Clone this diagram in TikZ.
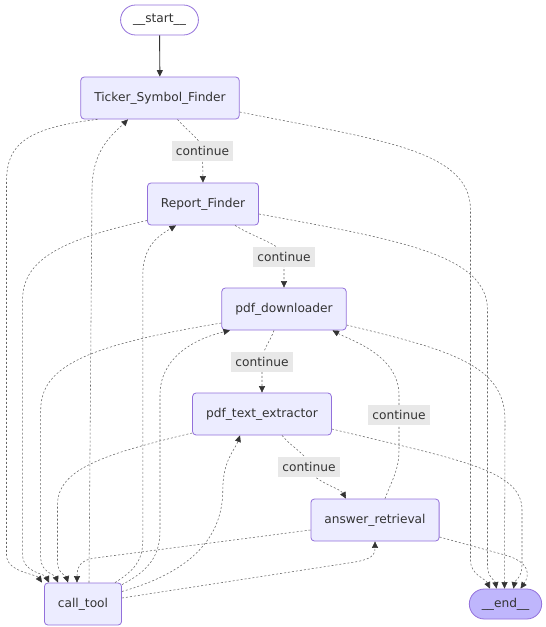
\documentclass[tikz,border=0pt]{standalone}
\usepackage{fontspec}
\setmainfont{DejaVu Sans}
\usetikzlibrary{arrows.meta}
\definecolor{nodefill}{HTML}{ECECFF}
\definecolor{nodeline}{HTML}{9370DB}
\definecolor{endfill}{HTML}{BFB6FC}
\definecolor{ink}{HTML}{333333}
\definecolor{lblfill}{HTML}{E8E8E8}

\begin{document}
\begin{tikzpicture}[x=1pt,y=-1pt,>={Triangle[length=6.5pt,width=6pt,color=ink]},
  font=\fontsize{12.2}{14}\selectfont,text=ink]
	\tikzstyle{box}=[draw=nodeline,fill=nodefill,line width=0.8pt,rounded corners=3.5pt,
	  inner xsep=13.5pt,minimum height=42pt]
	\tikzstyle{term}=[box,rounded corners=15pt,minimum height=30pt,inner xsep=12.5pt]
	\tikzstyle{flow}=[->,draw=ink!75,line width=0.55pt,dash pattern=on 2pt off 2pt]
	\tikzstyle{lbl}=[fill=lblfill,inner xsep=4pt,inner ysep=0pt,minimum height=20pt]
	\useasboundingbox (0,0) rectangle (546,627);
	
	\node[term,fill=white] (start) at (159.5,20) {\_\_start\_\_};
	\node[box] (tsf) at (160,98) {Ticker\_Symbol\_Finder};
	\node[box] (rf) at (203,204) {Report\_Finder};
	\node[box] (pdd) at (284,309) {pdf\_downloader};
	\node[box] (pte) at (262,414) {pdf\_text\_extractor};
	\node[box] (ar) at (375,520) {answer\_retrieval};
	\node[box] (ct) at (83,604) {call\_tool};
	\node[term,fill=endfill] (end) at (505.5,604) {\_\_end\_\_};
	
	% main chain
	\draw[->,draw=ink,line width=0.9pt] (start) -- (tsf);
	\draw[flow] ([xshift=17.5pt]tsf.south) .. controls (188,132) and (202.5,140) .. (202.5,151) node[lbl] {continue} -- (rf.north);
	\draw[flow] ([xshift=32pt]rf.south) .. controls (255,238) and (284,245) .. (284,257) node[lbl] {continue} -- (pdd.north);
	\draw[flow] ([xshift=-10pt]pdd.south) .. controls (270,342) and (262,350) .. (262,362) node[lbl] {continue} -- (pte.north);
	\draw[flow] ([xshift=20pt]pte.south) .. controls (292,448) and (309,455) .. (309,467) node[lbl] {continue}
	  .. controls (309,480) and (340,488) .. ([xshift=-29pt]ar.north);
	\draw[flow] ([xshift=10pt]ar.north) .. controls (392,480) and (399,470) .. (399,450) -- (399,414.5) node[lbl] {continue}
	  -- (399,395) .. controls (399,355) and (350,340) .. ([xshift=48.5pt]pdd.south);
	
	% into call_tool
	\draw[flow] ([xshift=-62.5pt]tsf.south) .. controls (25,128) and (6.5,145) .. (6.5,182) -- (6.5,555) .. controls (6.5,572) and (36,574) .. ([xshift=-41pt]ct.north);
	\draw[flow] ([yshift=-16.5pt]rf.west) .. controls (60,240) and (22.6,260) .. (22.6,300) -- (22.6,555) .. controls (22.6,572) and (45,574) .. ([xshift=-34pt]ct.north);
	\draw[flow] ([yshift=-14pt]pdd.west) .. controls (90,345) and (40.7,365) .. (40.7,410) -- (40.7,558) .. controls (40.7,572) and (55,575) .. ([xshift=-25pt]ct.north);
	\draw[flow] ([yshift=-19pt]pte.west) .. controls (100,455) and (57.5,470) .. (57.5,505) -- (57.5,562) .. controls (57.5,573) and (66,576) .. ([xshift=-15pt]ct.north);
	\draw[flow] ([yshift=-10pt]ar.west) -- (95,558) .. controls (82,560) and (77,565) .. ([xshift=-6pt]ct.north);
	
	% out of call_tool
	\draw[flow] ([xshift=6pt]ct.north) -- (92,190) .. controls (92,150) and (112,135) .. ([xshift=-32pt]tsf.south);
	\draw[flow] ([xshift=32pt]ct.north) .. controls (135,570) and (142.8,560) .. (142.8,540) -- (142.8,275) .. controls (142.8,245) and (160,235) .. ([xshift=-27pt]rf.south);
	\draw[flow] ([yshift=-2pt]ct.north east) .. controls (150,570) and (160,555) .. (160,530) -- (160,395) .. controls (160,360) and (190,340) .. ([xshift=-54pt]pdd.south);
	\draw[flow] ([yshift=12.5pt]ct.east) .. controls (180,575) and (222.8,545) .. (222.8,490) .. controls (222.8,460) and (235,450) .. ([xshift=-22pt]pte.south);
	\draw[flow] ([yshift=6pt]ct.east) -- (355,562) .. controls (372,559) and (375,555) .. (ar.south);
	
	% into __end__
	\draw[flow] ([yshift=-14pt]tsf.east) .. controls (380,140) and (470.5,150) .. (470.5,210) -- (470.5,560) .. controls (470.5,575) and (485,578) .. ([xshift=-15.5pt]end.north);
	\draw[flow] ([yshift=-10pt]rf.east) .. controls (400,240) and (487.5,255) .. (487.5,310) -- (487.5,565) .. controls (487.5,578) and (495,580) .. ([xshift=-9pt]end.north);
	\draw[flow] ([yshift=-16pt]pdd.east) .. controls (450,350) and (505,365) .. (505,420) -- ([xshift=-1pt]end.north);
	\draw[flow] ([yshift=-15pt]pte.east) .. controls (460,460) and (522,470) .. (522,510) -- (522,565) .. controls (522,578) and (515,580) .. ([xshift=8pt]end.north);
	\draw[flow] ([yshift=-17pt]ar.east) -- (505,555) .. controls (530,562) and (530,575) .. ([xshift=15pt]end.north);
\end{tikzpicture}
\end{document}
